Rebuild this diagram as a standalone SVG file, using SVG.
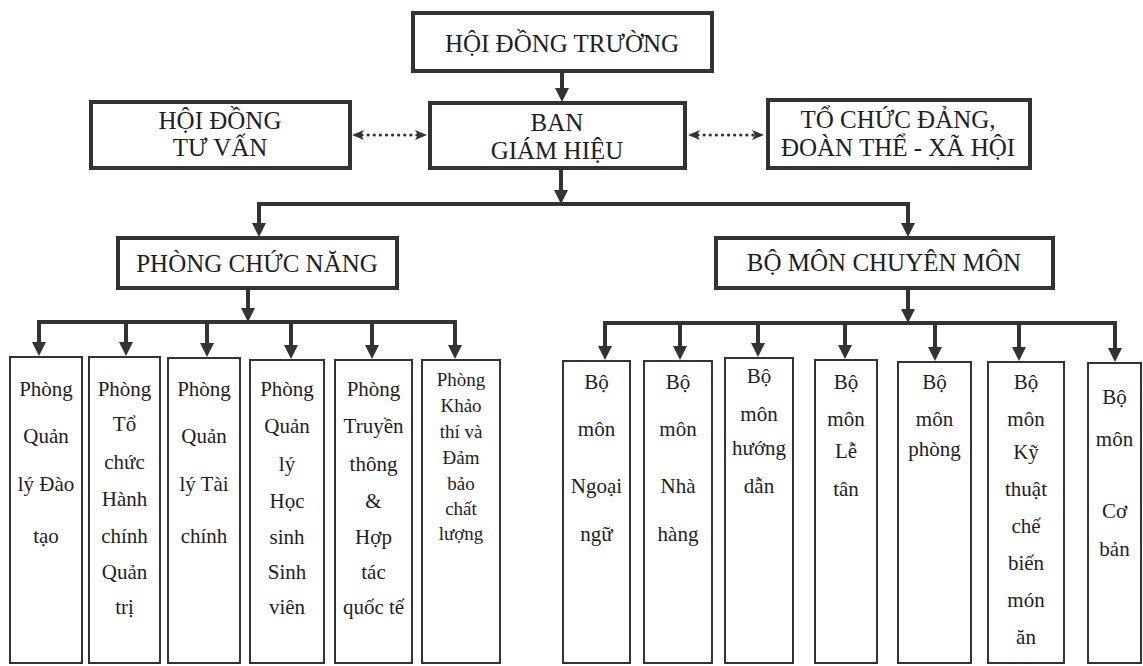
<svg xmlns="http://www.w3.org/2000/svg" width="1143" height="666" viewBox="0 0 1143 666">
<defs>
<style>
.top rect{fill:#fff;stroke:#333;stroke-width:4}
.box rect{fill:#fff;stroke:#333;stroke-width:2}
text{font-family:"Liberation Serif","Times New Roman",serif;fill:#1e1e1e;text-anchor:middle}
.top text{font-size:25px}
.box text{font-size:21px}
.box text.sm{font-size:19px}
.conn{fill:none;stroke:#333;stroke-width:4}
.dot{fill:none;stroke:#333;stroke-width:3.2;stroke-dasharray:0.1 6;stroke-linecap:round}
</style>
<marker id="ah" markerUnits="userSpaceOnUse" markerWidth="14" markerHeight="14" viewBox="0 0 14 14" refX="2" refY="7" orient="auto">
<path d="M0,0 L14,7 L0,14 z" fill="#333"/>
</marker>
<marker id="dh" markerUnits="userSpaceOnUse" markerWidth="12" markerHeight="12" viewBox="0 0 12 12" refX="2" refY="6" orient="auto-start-reverse">
<path d="M0,1 L12,6 L0,11 L3,6 z" fill="#333"/>
</marker>
</defs>
<rect width="1143" height="666" fill="#fff"/>

<g id="connectors">
<line class="conn" x1="562" y1="71" x2="562" y2="90" marker-end="url(#ah)"/>
<line class="conn" x1="561" y1="168" x2="561" y2="192" marker-end="url(#ah)"/>
<polyline class="conn" points="259,225 259,204 908,204 908,225"/>
<line class="conn" x1="259" y1="215" x2="259" y2="225" marker-end="url(#ah)"/>
<line class="conn" x1="908" y1="215" x2="908" y2="225" marker-end="url(#ah)"/>
<line class="dot" x1="362" y1="135" x2="417" y2="135" marker-start="url(#dh)" marker-end="url(#dh)"/>
<line class="dot" x1="698" y1="135" x2="754" y2="135" marker-start="url(#dh)" marker-end="url(#dh)"/>
<line class="conn" x1="248" y1="289" x2="248" y2="310" marker-end="url(#ah)"/>
<polyline class="conn" points="39,345 39,322 455,322 455,346"/>
<line class="conn" x1="39" y1="335" x2="39" y2="344" marker-end="url(#ah)"/>
<line class="conn" x1="126" y1="322" x2="126" y2="344" marker-end="url(#ah)"/>
<line class="conn" x1="207" y1="322" x2="207" y2="345" marker-end="url(#ah)"/>
<line class="conn" x1="291" y1="322" x2="291" y2="347" marker-end="url(#ah)"/>
<line class="conn" x1="372" y1="322" x2="372" y2="347" marker-end="url(#ah)"/>
<line class="conn" x1="455" y1="335" x2="455" y2="347" marker-end="url(#ah)"/>
<line class="conn" x1="908" y1="288" x2="908" y2="311" marker-end="url(#ah)"/>
<polyline class="conn" points="605,346 605,323 1115,323 1115,349"/>
<line class="conn" x1="605" y1="335" x2="605" y2="348" marker-end="url(#ah)"/>
<line class="conn" x1="680" y1="323" x2="680" y2="348" marker-end="url(#ah)"/>
<line class="conn" x1="758" y1="323" x2="758" y2="345" marker-end="url(#ah)"/>
<line class="conn" x1="845" y1="323" x2="845" y2="347" marker-end="url(#ah)"/>
<line class="conn" x1="935" y1="323" x2="935" y2="349" marker-end="url(#ah)"/>
<line class="conn" x1="1019" y1="323" x2="1019" y2="349" marker-end="url(#ah)"/>
<line class="conn" x1="1115" y1="335" x2="1115" y2="350" marker-end="url(#ah)"/>
</g>

<g id="hoi-dong-truong" class="top">
<rect x="413" y="13" width="299" height="58"/>
<text x="562" y="52">HỘI ĐỒNG TRƯỜNG</text>
</g>
<g id="hoi-dong-tu-van" class="top">
<rect x="91" y="102" width="259" height="66"/>
<text x="220" y="129">HỘI ĐỒNG</text>
<text x="220" y="156">TƯ VẤN</text>
</g>
<g id="ban-giam-hieu" class="top">
<rect x="430" y="103" width="255" height="65"/>
<text x="557" y="131">BAN</text>
<text x="557" y="159">GIÁM HIỆU</text>
</g>
<g id="to-chuc-dang" class="top">
<rect x="768" y="100" width="262" height="68"/>
<text x="898" y="128">TỔ CHỨC ĐẢNG,</text>
<text x="898" y="156">ĐOÀN THỂ - XÃ HỘI</text>
</g>
<g id="phong-chuc-nang" class="top">
<rect x="118" y="238" width="279" height="50"/>
<text x="257" y="272">PHÒNG CHỨC NĂNG</text>
</g>
<g id="bo-mon-chuyen-mon" class="top">
<rect x="716" y="238" width="337" height="50"/>
<text x="884" y="271">BỘ MÔN CHUYÊN MÔN</text>
</g>

<g id="phong-dao-tao" class="box">
<rect x="10" y="357" width="72" height="306"/>
<text x="46" y="396">Phòng</text><text x="46" y="443">Quản</text><text x="46" y="491">lý Đào</text><text x="46" y="543">tạo</text>
</g>
<g id="phong-hanh-chinh" class="box">
<rect x="89" y="357" width="71" height="306"/>
<text x="124.5" y="396">Phòng</text><text x="124.5" y="431">Tổ</text><text x="124.5" y="469">chức</text><text x="124.5" y="506">Hành</text><text x="124.5" y="543">chính</text><text x="124.5" y="579">Quản</text><text x="124.5" y="614">trị</text>
</g>
<g id="phong-tai-chinh" class="box">
<rect x="168" y="358" width="72" height="305"/>
<text x="204" y="396">Phòng</text><text x="204" y="443">Quản</text><text x="204" y="491">lý Tài</text><text x="204" y="543">chính</text>
</g>
<g id="phong-hssv" class="box">
<rect x="250" y="360" width="74" height="303"/>
<text x="287" y="396">Phòng</text><text x="287" y="433">Quản</text><text x="287" y="471">lý</text><text x="287" y="508">Học</text><text x="287" y="544">sinh</text><text x="287" y="579">Sinh</text><text x="287" y="614">viên</text>
</g>
<g id="phong-truyen-thong" class="box">
<rect x="335" y="360" width="77" height="303"/>
<text x="373.5" y="396">Phòng</text><text x="373.5" y="433">Truyền</text><text x="373.5" y="471">thông</text><text x="373.5" y="508">&amp;</text><text x="373.5" y="544">Hợp</text><text x="373.5" y="579">tác</text><text x="373.5" y="614">quốc tế</text>
</g>
<g id="phong-khao-thi" class="box">
<rect x="422" y="360" width="78" height="303"/>
<text class="sm" x="461" y="386">Phòng</text><text class="sm" x="461" y="412">Khảo</text><text class="sm" x="461" y="438">thí và</text><text class="sm" x="461" y="464">Đảm</text><text class="sm" x="461" y="490">bảo</text><text class="sm" x="461" y="515">chất</text><text class="sm" x="461" y="540">lượng</text>
</g>

<g id="bm-ngoai-ngu" class="box">
<rect x="563" y="361" width="67" height="302"/>
<text x="596.5" y="389">Bộ</text><text x="596.5" y="436">môn</text><text x="596.5" y="493">Ngoại</text><text x="596.5" y="541">ngữ</text>
</g>
<g id="bm-nha-hang" class="box">
<rect x="644" y="361" width="68" height="302"/>
<text x="678" y="389">Bộ</text><text x="678" y="436">môn</text><text x="678" y="493">Nhà</text><text x="678" y="541">hàng</text>
</g>
<g id="bm-huong-dan" class="box">
<rect x="725" y="358" width="68" height="305"/>
<text x="759" y="383">Bộ</text><text x="759" y="421">môn</text><text x="759" y="455">hướng</text><text x="759" y="493">dẫn</text>
</g>
<g id="bm-le-tan" class="box">
<rect x="815" y="360" width="62" height="303"/>
<text x="846" y="389">Bộ</text><text x="846" y="426">môn</text><text x="846" y="458">Lễ</text><text x="846" y="496">tân</text>
</g>
<g id="bm-phong" class="box">
<rect x="898" y="362" width="73" height="301"/>
<text x="934.5" y="389">Bộ</text><text x="934.5" y="426">môn</text><text x="934.5" y="456">phòng</text>
</g>
<g id="bm-ky-thuat" class="box">
<rect x="988" y="362" width="76" height="301"/>
<text x="1026" y="389">Bộ</text><text x="1026" y="426">môn</text><text x="1026" y="459">Kỹ</text><text x="1026" y="496">thuật</text><text x="1026" y="533">chế</text><text x="1026" y="570">biến</text><text x="1026" y="607">món</text><text x="1026" y="644">ăn</text>
</g>
<g id="bm-co-ban" class="box">
<rect x="1088" y="363" width="53" height="300"/>
<text x="1114.5" y="404">Bộ</text><text x="1114.5" y="446">môn</text><text x="1114.5" y="518">Cơ</text><text x="1114.5" y="556">bản</text>
</g>
</svg>
